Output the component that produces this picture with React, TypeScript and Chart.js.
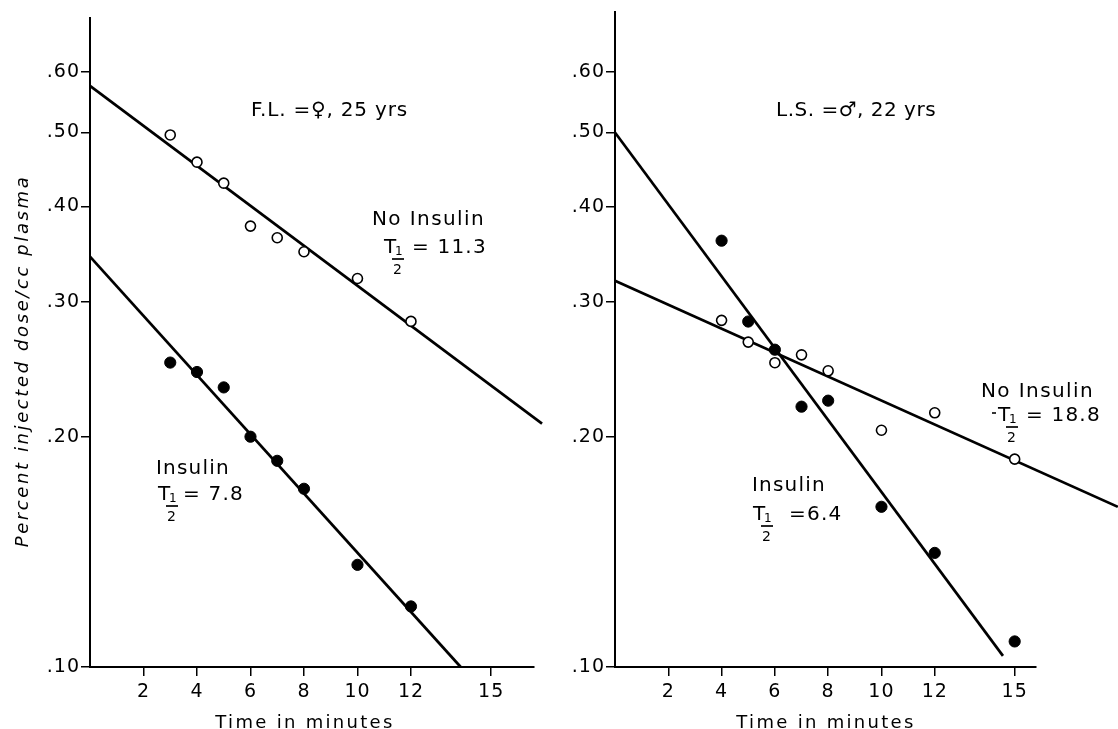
import React, { useEffect, useRef } from "react";
import { Chart, registerables } from "chart.js";

Chart.register(...registerables);

const FONT = "'DejaVu Sans', 'Liberation Sans', sans-serif";

// ---- axis ticks ----
const yTicks = [0.1, 0.2, 0.3, 0.4, 0.5, 0.6];
const yTickLabels = [".10", ".20", ".30", ".40", ".50", ".60"];
const xTicks = [2, 4, 6, 8, 10, 12, 15];
const xTickLabels = ["2", "4", "6", "8", "10", "12", "15"];

// ---- left panel: F.L., female, 25 yrs ----
const leftTimes = [3, 4, 5, 6, 7, 8, 10, 12];
const leftNoInsulin = [0.496, 0.457, 0.429, 0.377, 0.364, 0.349, 0.322, 0.283];
const leftInsulin = [0.25, 0.243, 0.232, 0.2, 0.186, 0.171, 0.136, 0.12];
const leftNoInsulinFitT = [0, 16.9];
const leftNoInsulinFitV = [0.575, 0.208];
const leftInsulinFitT = [0, 13.86];
const leftInsulinFitV = [0.344, 0.1];

// ---- right panel: L.S., male, 22 yrs ----
const rightTimes = [4, 5, 6, 7, 8, 10, 12, 15];
const rightNoInsulin = [0.284, 0.266, 0.25, 0.256, 0.244, 0.204, 0.215, 0.187];
const rightInsulin = [0.361, 0.283, 0.26, 0.219, 0.223, 0.162, 0.141, 0.108];
const rightNoInsulinFitT = [0, 18.87];
const rightNoInsulinFitV = [0.32, 0.162];
const rightInsulinFitT = [0, 14.56];
const rightInsulinFitV = [0.5, 0.1034];

// ---- texts ----
const leftSubject = "F.L. =\u2640, 25 yrs";
const rightSubject = "L.S. =\u2642, 22 yrs";
const noInsulinLabel = "No Insulin";
const insulinLabel = "Insulin";
const leftNoInsulinHalf = "= 11.3";
const leftInsulinHalf = "= 7.8";
const rightNoInsulinHalf = "= 18.8";
const rightInsulinHalf = "=6.4";
const yTitle = "Percent injected dose/cc plasma";
const xTitle = "Time in minutes";

const pts = (xs: number[], ys: number[]) => xs.map((x, i) => ({ x, y: ys[i] }));

function txt(ctx: CanvasRenderingContext2D, s: string, x: number, y: number, size: number, spacing = 0, italic = false, align: CanvasTextAlign = "left") {
  ctx.save();
  ctx.font = `${italic ? "italic " : ""}${size}px ${FONT}`;
  (ctx as any).letterSpacing = `${spacing}px`;
  ctx.textAlign = align;
  ctx.textBaseline = "alphabetic";
  ctx.fillStyle = "#000";
  ctx.fillText(s, x, y);
  ctx.restore();
}

function line(ctx: CanvasRenderingContext2D, x1: number, y1: number, x2: number, y2: number, w: number) {
  ctx.save();
  ctx.strokeStyle = "#000";
  ctx.lineWidth = w;
  ctx.beginPath();
  ctx.moveTo(x1, y1);
  ctx.lineTo(x2, y2);
  ctx.stroke();
  ctx.restore();
}

function tHalf(ctx: CanvasRenderingContext2D, x: number, base: number, rest: string, restX: number, dash = false) {
  if (dash) line(ctx, x - 6, base - 8, x - 2, base - 8, 1.6);
  txt(ctx, "T", x, base, 20);
  txt(ctx, "1", x + 11, base + 2, 12);
  line(ctx, x + 8, base + 6, x + 20, base + 6, 1.7);
  txt(ctx, "2", x + 9, base + 21, 14);
  txt(ctx, rest, restX, base, 20, 1.2);
}

type PanelCfg = {
  left: number;
  width: number;
  xMax: number;
  yMax: number;
  yAxisWidth: number;
  pad: { left: number; right: number; top: number; bottom: number };
  times: number[];
  noIns: number[];
  ins: number[];
  noFit: [number[], number[]];
  insFit: [number[], number[]];
  draw: (ctx: CanvasRenderingContext2D, ox: number) => void;
};

const leftPanel: PanelCfg = {
  left: 0,
  width: 560,
  xMax: 16.6,
  yMax: 0.7053,
  yAxisWidth: 90,
  pad: { left: 0, right: 26, top: 18, bottom: 0 },
  times: leftTimes,
  noIns: leftNoInsulin,
  ins: leftInsulin,
  noFit: [leftNoInsulinFitT, leftNoInsulinFitV],
  insFit: [leftInsulinFitT, leftInsulinFitV],
  draw: (ctx, ox) => {
    txt(ctx, leftSubject, 251 - ox, 116, 20, 0.8);
    txt(ctx, noInsulinLabel, 372 - ox, 225, 20, 1.4);
    tHalf(ctx, 384 - ox, 253, leftNoInsulinHalf, 412 - ox);
    txt(ctx, insulinLabel, 156 - ox, 474, 20, 1.2);
    tHalf(ctx, 158 - ox, 500, leftInsulinHalf, 183 - ox);
    // y axis title
    ctx.save();
    ctx.translate(22 - ox, 361);
    ctx.rotate(-Math.PI / 2);
    txt(ctx, yTitle, 0, 6, 18, 2.6, true, "center");
    ctx.restore();
    txt(ctx, xTitle, 305 - ox, 728, 18, 2.3, false, "center");
  },
};

const rightPanel: PanelCfg = {
  left: 560,
  width: 558,
  xMax: 15.8,
  yMax: 0.7179,
  yAxisWidth: 55,
  pad: { left: 0, right: 82, top: 12, bottom: 0 },
  times: rightTimes,
  noIns: rightNoInsulin,
  ins: rightInsulin,
  noFit: [rightNoInsulinFitT, rightNoInsulinFitV],
  insFit: [rightInsulinFitT, rightInsulinFitV],
  draw: (ctx, ox) => {
    txt(ctx, rightSubject, 776 - ox, 116, 20, 0.5);
    txt(ctx, noInsulinLabel, 981 - ox, 397, 20, 1.4);
    tHalf(ctx, 998 - ox, 421, rightNoInsulinHalf, 1026 - ox, true);
    txt(ctx, insulinLabel, 752 - ox, 491, 20, 1.2);
    tHalf(ctx, 753 - ox, 520, rightInsulinHalf, 789 - ox);
    txt(ctx, xTitle, 826 - ox, 728, 18, 2.3, false, "center");
  },
};

function buildConfig(p: PanelCfg): any {
  const nearestLabel = (v: number, ticks: number[], labels: string[]) => {
    let best = 0;
    ticks.forEach((t, i) => {
      if (Math.abs(t - v) < Math.abs(ticks[best] - v)) best = i;
    });
    return labels[best];
  };
  const annotate = {
    id: "annotate",
    beforeDraw: (chart: any) => {
      (chart.ctx as any).letterSpacing = "1px";
    },
    afterDraw: (chart: any) => {
      p.draw(chart.ctx, p.left);
    },
  };
  return {
    type: "scatter",
    data: {
      datasets: [
        {
          label: "No Insulin",
          data: pts(p.times, p.noIns),
          showLine: false,
          pointStyle: "circle",
          pointRadius: 5,
          pointBackgroundColor: "#ffffff",
          pointBorderColor: "#000000",
          pointBorderWidth: 1.6,
          order: 0,
        },
        {
          label: "Insulin",
          data: pts(p.times, p.ins),
          showLine: false,
          pointStyle: "circle",
          pointRadius: 5.6,
          pointBackgroundColor: "#000000",
          pointBorderColor: "#000000",
          pointBorderWidth: 1,
          order: 0,
        },
        {
          label: "No Insulin fit",
          data: pts(p.noFit[0], p.noFit[1]),
          showLine: true,
          pointRadius: 0,
          borderColor: "#000000",
          borderWidth: 2.7,
          clip: false,
          order: 1,
        },
        {
          label: "Insulin fit",
          data: pts(p.insFit[0], p.insFit[1]),
          showLine: true,
          pointRadius: 0,
          borderColor: "#000000",
          borderWidth: 2.7,
          clip: false,
          order: 1,
        },
      ],
    },
    options: {
      responsive: false,
      animation: false,
      events: [],
      layout: { padding: p.pad },
      plugins: { legend: { display: false }, tooltip: { enabled: false }, title: { display: false } },
      scales: {
        x: {
          type: "linear",
          min: 0,
          max: p.xMax,
          afterBuildTicks: (s: any) => {
            s.ticks = xTicks.map((v) => ({ value: v }));
          },
          afterFit: (s: any) => {
            s.height = 62;
          },
          ticks: {
            autoSkip: false,
            maxRotation: 0,
            padding: 5,
            color: "#000",
            font: { family: FONT, size: 19 },
            callback: (v: number) => nearestLabel(v, xTicks, xTickLabels),
          },
          grid: { display: true, drawOnChartArea: false, drawTicks: true, tickLength: 9, color: "#000", lineWidth: 1.5 },
          border: { display: true, color: "#000", width: 2 },
          title: { display: false },
        },
        y: {
          type: "logarithmic",
          min: 0.1,
          max: p.yMax,
          afterBuildTicks: (s: any) => {
            s.ticks = yTicks.map((v) => ({ value: v }));
          },
          afterFit: (s: any) => {
            s.width = p.yAxisWidth;
          },
          ticks: {
            autoSkip: false,
            padding: 1,
            color: "#000",
            font: { family: FONT, size: 19 },
            callback: (v: number) => nearestLabel(v, yTicks, yTickLabels),
          },
          grid: { display: true, drawOnChartArea: false, drawTicks: true, tickLength: 9, color: "#000", lineWidth: 1.5 },
          border: { display: true, color: "#000", width: 2 },
          title: { display: false },
        },
      },
    },
    plugins: [annotate],
  };
}

function Panel({ p }: { p: PanelCfg }) {
  const ref = useRef<HTMLCanvasElement>(null);
  useEffect(() => {
    const chart = new Chart(ref.current as HTMLCanvasElement, buildConfig(p));
    return () => chart.destroy();
  }, [p]);
  return (
    <canvas
      ref={ref}
      width={p.width}
      height={729}
      style={{ position: "absolute", left: p.left, top: 0, width: p.width, height: 729 }}
    />
  );
}

export default function App() {
  return (
    <div style={{ position: "fixed", left: 0, top: 0, width: 1118, height: 729, background: "#fff", overflow: "hidden" }}>
      <Panel p={leftPanel} />
      <Panel p={rightPanel} />
    </div>
  );
}
